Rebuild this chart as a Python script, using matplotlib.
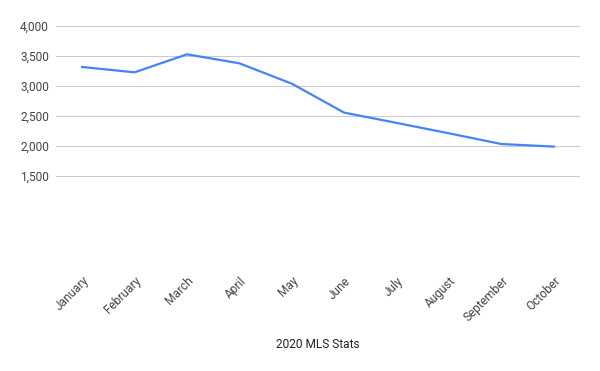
import matplotlib
matplotlib.use("Agg")
import matplotlib.pyplot as plt

months = ["January", "February", "March", "April", "May", "June",
          "July", "August", "September", "October"]
listings = [3317, 3228, 3528, 3378, 3039, 2556, 2385, 2211, 2033, 1990]
y_ticks = [1500, 2000, 2500, 3000, 3500, 4000]
title = "2020 MLS Stats"

plt.rcParams["font.family"] = ["Roboto", "DejaVu Sans"]

fig = plt.figure(figsize=(6.0, 3.71), dpi=100)
ax = fig.add_axes([56 / 600, 1 - 266 / 371, 524 / 600, 240 / 371])

x = list(range(len(months)))
ax.plot(x, listings, color="#4285F4", linewidth=1.6, solid_joinstyle="round")

ax.set_xlim(-0.5, len(months) - 0.5)
ax.set_ylim(0, 4000)
ax.set_yticks(y_ticks)
ax.set_yticklabels([f"{v:,}" for v in y_ticks], color="#444444", fontsize=8.6)
ax.set_xticks(x)
ax.set_xticklabels(months, rotation=45, ha="right", rotation_mode="anchor",
                   color="#444444", fontsize=8.6)
ax.tick_params(axis="both", length=0)
ax.tick_params(axis="y", pad=5)
ax.tick_params(axis="x", pad=6)
ax.grid(axis="y", color="#cccccc", linewidth=0.8)
ax.set_axisbelow(True)
for s in ax.spines.values():
    s.set_visible(False)

fig.text(318 / 600, 1 - 345 / 371, title, ha="center", va="center",
         fontsize=8.6, color="#222222")

fig.savefig("out.png", dpi=100)
